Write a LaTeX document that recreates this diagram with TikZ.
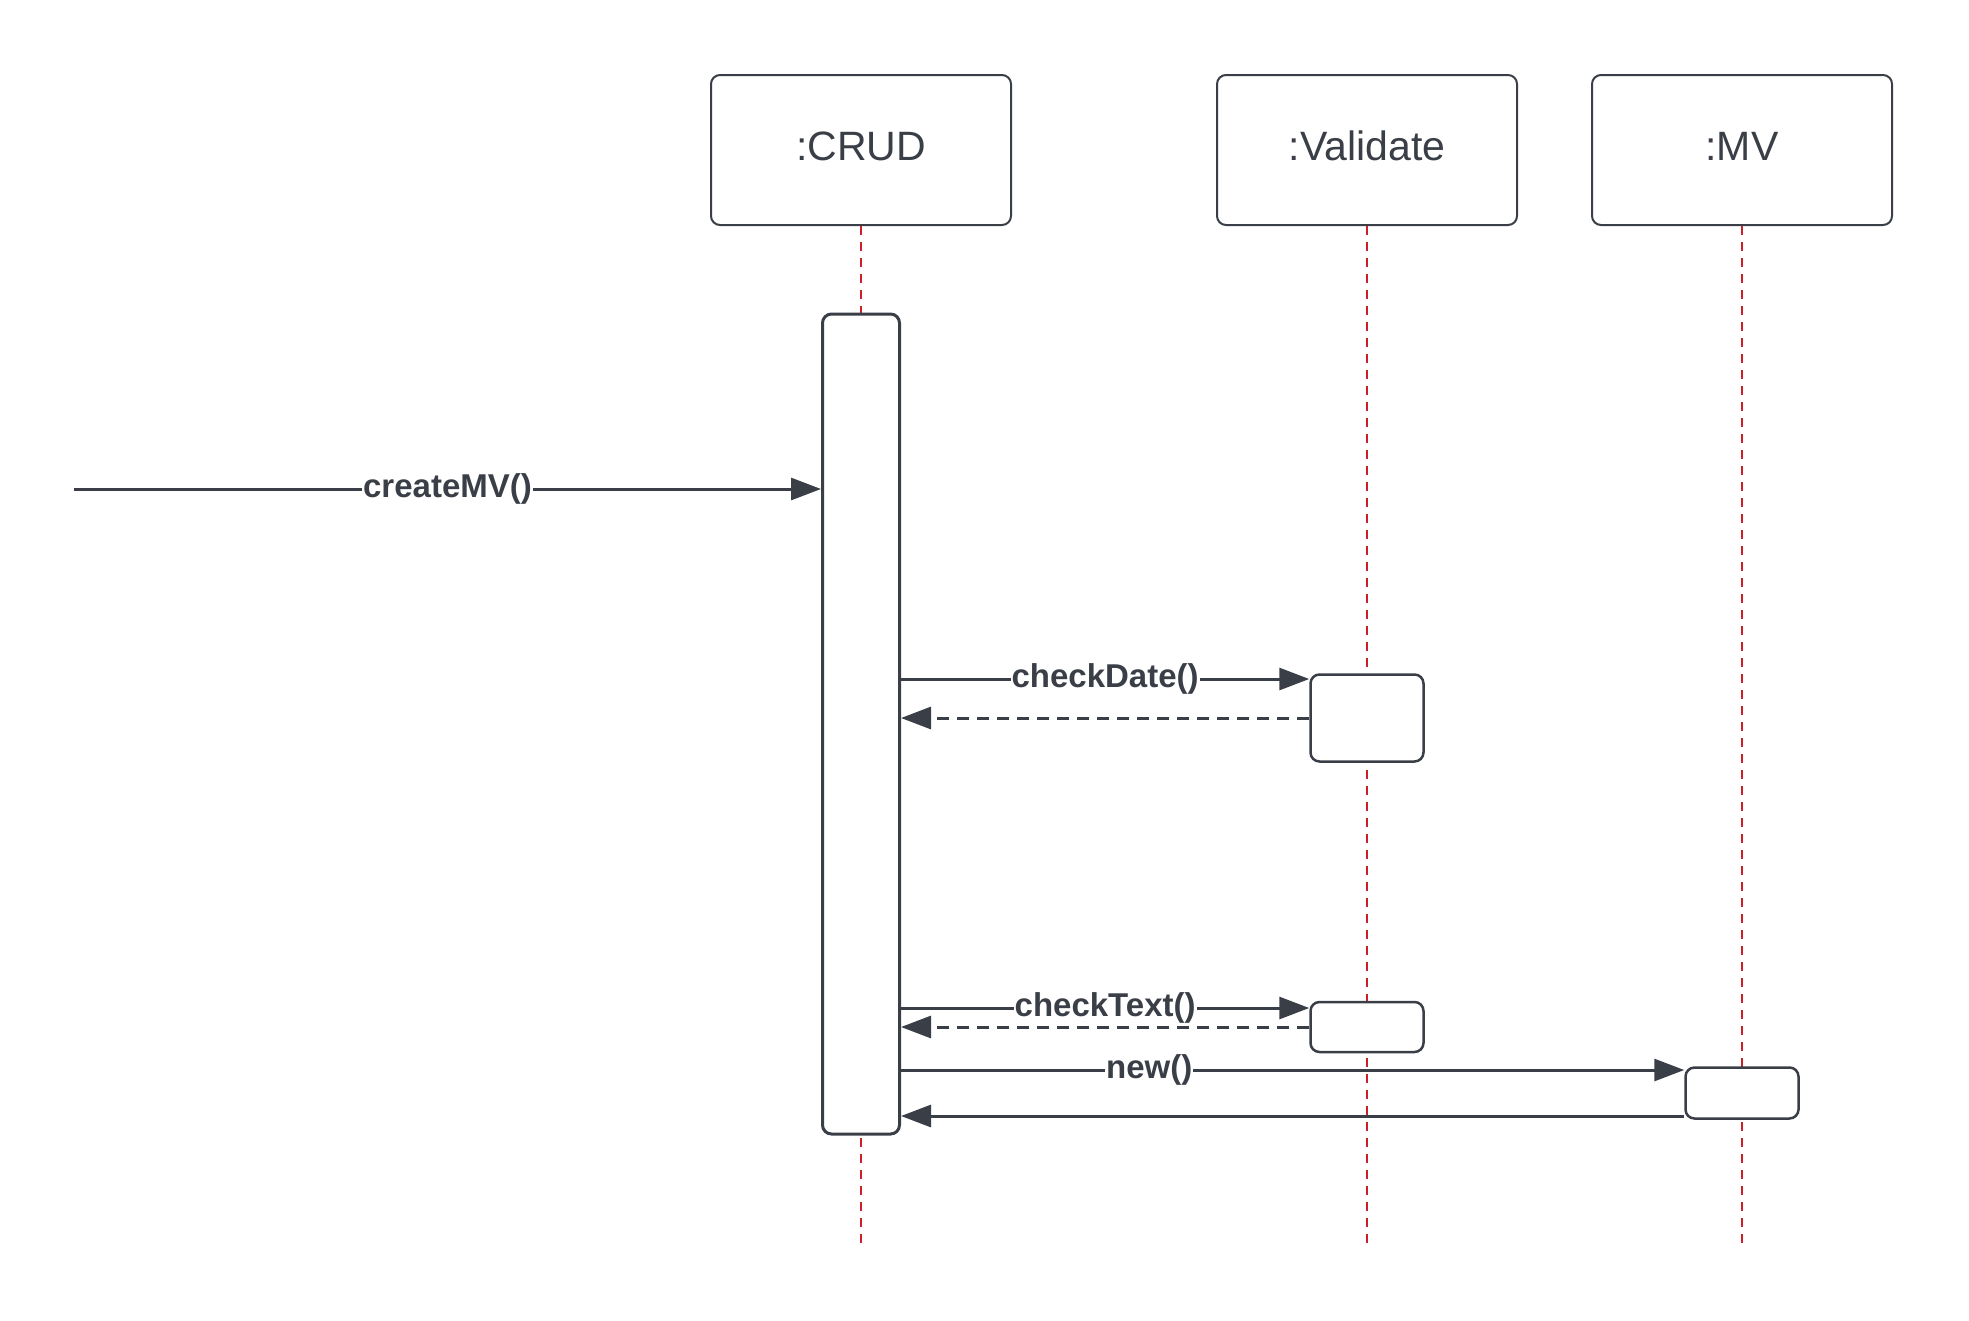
\documentclass[tikz,border=0pt]{standalone}
\usepackage{fontspec}
\setmainfont{Liberation Sans}
\usetikzlibrary{arrows.meta}
\definecolor{ink}{HTML}{3A3F47}
\definecolor{lifered}{HTML}{CC1F2A}
\newcommand{\headtext}[1]{\raisebox{8pt}{#1}}
\tikzset{
  headbox/.style={draw=ink, line width=2pt, rounded corners=9pt, fill=white,
    minimum width=300pt, minimum height=150pt, inner sep=0pt,
    font=\fontsize{41}{48}\selectfont, text=ink},
  actbox/.style={draw=ink, line width=2.5pt, rounded corners=9pt, fill=white, inner sep=0pt},
  lifeline/.style={draw=lifered, line width=2pt, dash pattern=on 9pt off 7pt},
  msg/.style={draw=ink, line width=3pt, -{Triangle[length=30pt,width=22pt]}},
  reply/.style={msg, dash pattern=on 12pt off 8pt},
  msglabel/.style={fill=white, inner sep=1pt, text=ink,
    font=\bfseries\fontsize{33}{38}\selectfont}
}
\begin{document}
\begin{tikzpicture}[x=1pt,y=-1pt]
\useasboundingbox (0,0) rectangle (1969,1320);

% lifeline heads
\node[headbox] (crud) at (861,150) {\headtext{:CRUD}};
\node[headbox] (val)  at (1367,150) {\headtext{:Validate}};
\node[headbox] (mv)   at (1742,150) {\headtext{:MV}};

% lifeline ends
\coordinate (crudend) at (861,1243);
\coordinate (valend)  at (1367,1243);
\coordinate (mvend)   at (1742,1243);
\draw[lifeline] (crud.south) -- (crudend);
\draw[lifeline] (val.south) -- (valend);
\draw[lifeline] (mv.south) -- (mvend);

% activation bars
\node[actbox, minimum width=77pt, minimum height=820pt, line width=3pt] (crudact) at (861,724) {};
\node[actbox, minimum width=113pt, minimum height=87pt] (valactA) at (1367,718) {};
\node[actbox, minimum width=113pt, minimum height=50pt] (valactB) at (1367,1027) {};
\node[actbox, minimum width=113pt, minimum height=51pt] (mvact) at (1742,1093) {};

% incoming call
\coordinate (src) at (74,489);
\draw[msg] (src) -- (crudact.west |- src)
  node[msglabel, pos=0.5] {createMV()};

% checkDate and its reply
\coordinate (cdY) at (0,679);
\coordinate (crY) at (0,718);
\draw[msg] (crudact.east |- cdY) -- (valactA.west |- cdY)
  node[msglabel, pos=0.5] {checkDate()};
\draw[reply] (valactA.west |- crY) -- (crudact.east |- crY);

% checkText and its reply
\coordinate (ctY) at (0,1008);
\coordinate (ctrY) at (0,1027);
\draw[msg] (crudact.east |- ctY) -- (valactB.west |- ctY)
  node[msglabel, pos=0.5] {checkText()};
\draw[reply] (valactB.west |- ctrY) -- (crudact.east |- ctrY);

% creation of the MV object and its return
\coordinate (nwY) at (0,1070);
\coordinate (nrY) at (0,1116);
\draw[msg] (crudact.east |- nwY) -- (mvact.west |- nwY)
  node[msglabel, pos=0.317] {new()};
\draw[msg] (mvact.west |- nrY) -- (crudact.east |- nrY);
\end{tikzpicture}
\end{document}
